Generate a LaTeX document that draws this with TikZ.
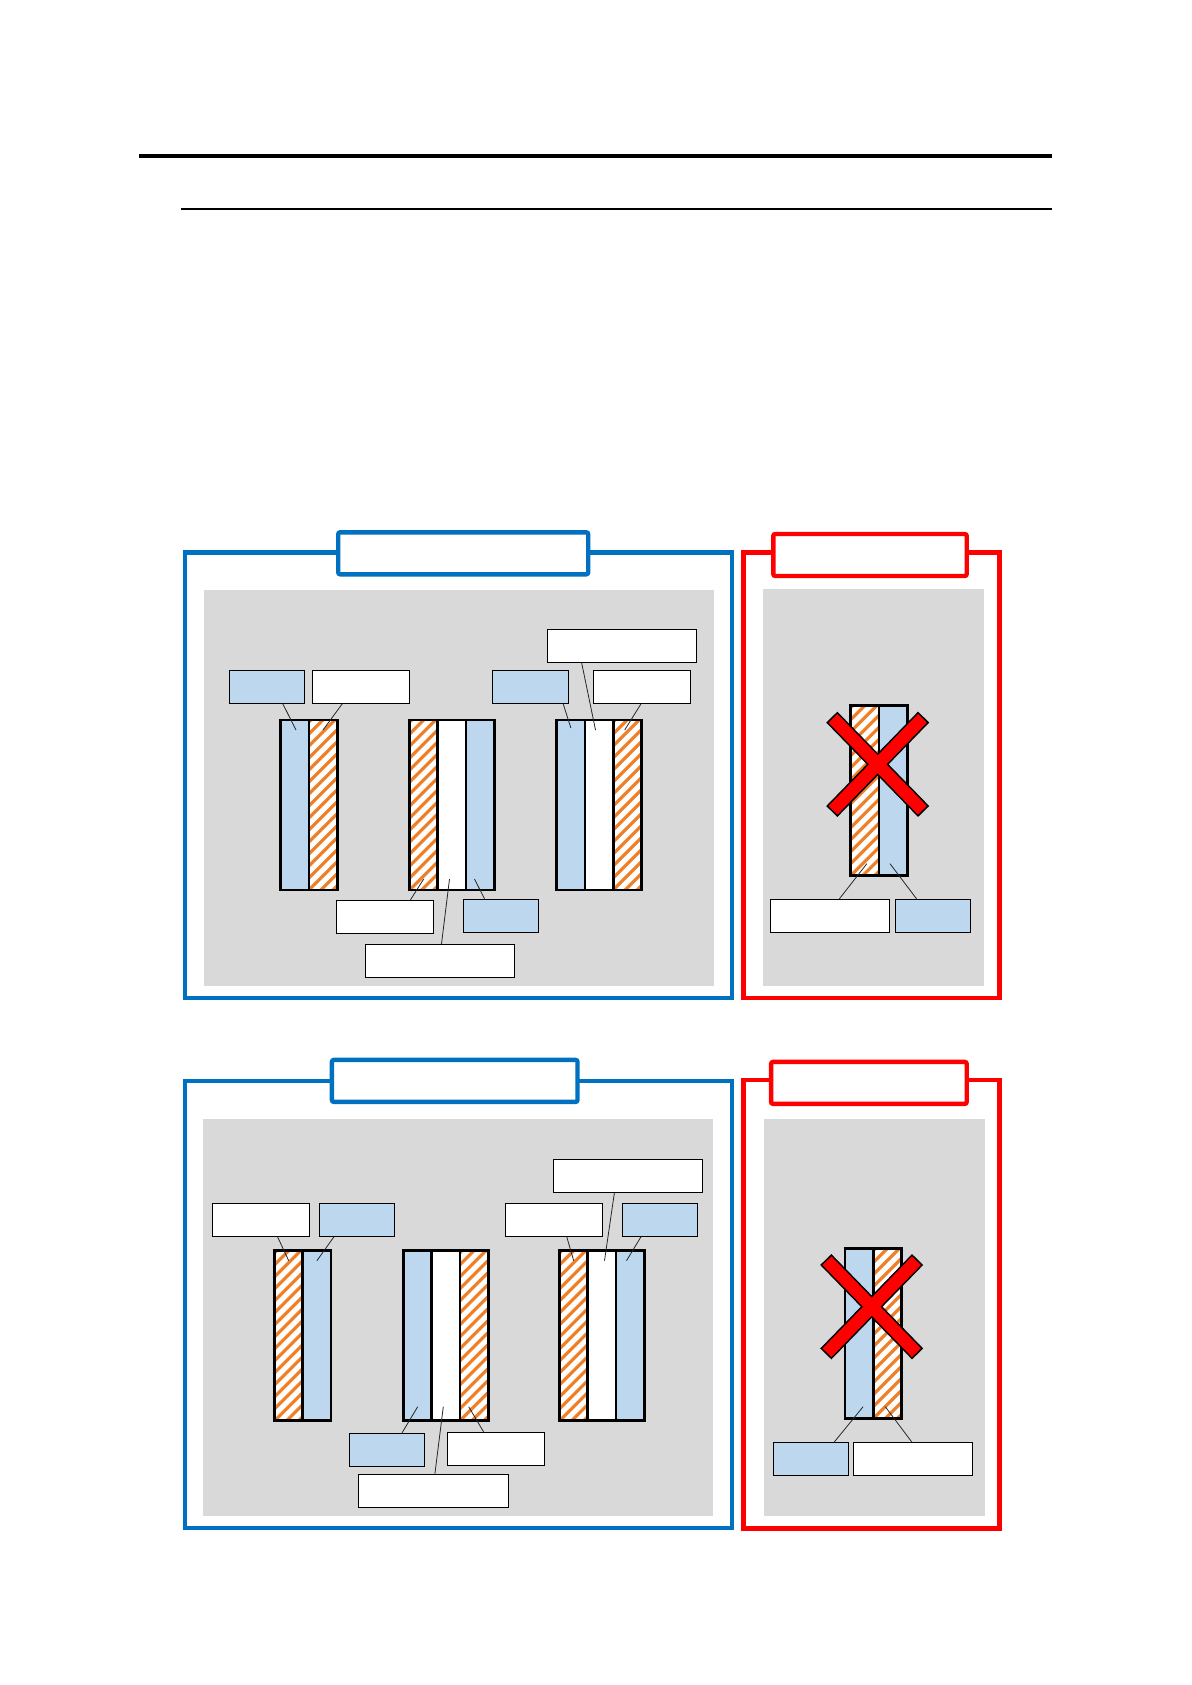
\documentclass[tikz,border=0pt]{standalone}
\usetikzlibrary{positioning,calc}
\definecolor{FrameBlue}{RGB}{0,112,192}
\definecolor{TagBlue}{RGB}{189,215,238}
\definecolor{PanelGrey}{RGB}{217,217,217}
\definecolor{HatchOrange}{RGB}{240,128,40}
\definecolor{StopRed}{RGB}{255,0,0}
\tikzset{
  tag/.style={draw=black,line width=0.5pt,inner sep=0pt,minimum height=16.5pt},
  btag/.style={tag,fill=TagBlue,minimum width=37.6pt},
  wtag/.style={tag,fill=white,minimum width=48.5pt},
  ltag/.style={tag,fill=white,minimum width=74.6pt},
  rtag/.style={tag,fill=white,minimum width=59.5pt},
  col/.style={draw=black,line width=1.4pt,inner sep=0pt,outer sep=0pt,
              minimum width=14.1pt,minimum height=85pt},
  bcol/.style={col,fill=TagBlue},
  wcol/.style={col,fill=white},
  hcol/.style={col,fill=white,path picture={
      \foreach \k in {-16,...,3}
        \draw[HatchOrange,line width=1.6pt]
          ([xshift=\k*6pt]path picture bounding box.south west) -- ++(100pt,100pt);
    }},
  okframe/.style={draw=FrameBlue,line width=2.2pt},
  noframe/.style={draw=StopRed,line width=2.2pt},
  oktitle/.style={draw=FrameBlue,fill=white,line width=2.2pt,rounded corners=1pt,
                  inner sep=0pt,minimum height=21pt},
  notitle/.style={draw=StopRed,fill=white,line width=2.2pt,rounded corners=1pt,
                  inner sep=0pt,minimum height=21pt},
  lead/.style={draw=black!85,line width=0.4pt},
  nogo/.pic={
    \draw[black,line width=7.8pt] (-45.9,-47.2)--(45.9,47.2) (-45.9,47.2)--(45.9,-47.2);
    \draw[StopRed,line width=6.2pt] (-44.7,-46)--(44.7,46) (-44.7,46)--(44.7,-46);
  }
}

\begin{document}
\begin{tikzpicture}[x=0.5pt,y=-0.5pt]
        \useasboundingbox (0,0) rectangle (1192,1685);
        % header rules
        \draw[line width=1.65pt] (139,156) -- (1052,156);
        \draw[line width=1pt] (181,208.7) -- (1052,208.7);

        % panels
        \fill[PanelGrey] (203.9,590) rectangle (713.9,985.7);
        \fill[PanelGrey] (762.7,589) rectangle (984,985.7);
        \fill[PanelGrey] (202.9,1119) rectangle (712.9,1515.7);
        \fill[PanelGrey] (764,1119) rectangle (985,1515.7);
        \draw[okframe] (185,552.3) rectangle (731.8,997.7);
        \draw[noframe] (743.3,552.3) rectangle (999.3,997.7);
        \draw[okframe] (185,1080.7) rectangle (732,1527.7);
        \draw[noframe] (743.3,1080) rectangle (999.3,1528.3);
        \node[oktitle,minimum width=125pt] (t1) at (463.2,553.3) {};
        \node[notitle,minimum width=96.7pt] (t2) at (870,555) {};
        \node[oktitle,minimum width=122.8pt] (t3) at (454.7,1080.9) {};
        \node[notitle,minimum width=97.8pt] (t4) at (868.9,1082.9) {};

        % upper row
        \node[bcol,anchor=north west] (a1) at (280.7,720) {};
        \node[hcol,right=0pt of a1] (a2) {};
        \node[hcol,anchor=north west] (b1) at (409.6,720) {};
        \node[wcol,right=0pt of b1] (b2) {};
        \node[bcol,right=0pt of b2] (b3) {};
        \node[bcol,anchor=north west] (c1) at (556.8,720) {};
        \node[wcol,right=0pt of c1] (c2) {};
        \node[hcol,right=0pt of c2] (c3) {};
        \node[hcol,anchor=north west] (r1) at (850.7,705.7) {};
        \node[bcol,right=0pt of r1] (r2) {};

        \node[btag] (ua) at (266.8,686.8) {};
        \node[wtag] (ub) at (360.9,686.8) {};
        \node[btag] (uc) at (530.4,686.8) {};
        \node[wtag] (ud) at (642,686.8) {};
        \node[ltag] (ue) at (622.2,645.8) {};
        \node[wtag] (uf) at (385,916.8) {};
        \node[btag] (ug) at (501.3,915.8) {};
        \node[ltag] (uh) at (440,960.8) {};
        \node[rtag] (ra) at (829.8,915.8) {};
        \node[btag] (rb) at (933.3,915.8) {};

        \draw[lead] ($(ua.south west)!.71!(ua.south east)$) -- ([xshift=.6pt,yshift=-5pt]a1.north);
        \draw[lead] ($(ub.south west)!.31!(ub.south east)$) -- ([yshift=-5pt]a2.north);
        \draw[lead] ($(uc.south west)!.93!(uc.south east)$) -- ([yshift=-4pt]c1.north);
        \draw[lead] ($(ue.south west)!.23!(ue.south east)$) -- ([xshift=-1.8pt,yshift=-5pt]c2.north);
        \draw[lead] ($(ud.south west)!.49!(ud.south east)$) -- ([xshift=-1.3pt,yshift=-5pt]c3.north);
        \draw[lead] ($(uf.north west)!.76!(uf.north east)$) -- ([yshift=5.5pt]b1.south);
        \draw[lead] ($(uh.north west)!.51!(uh.north east)$) -- ([xshift=-1.2pt,yshift=5.5pt]b2.south);
        \draw[lead] ($(ug.north west)!.28!(ug.north east)$) -- ([xshift=-2.8pt,yshift=5.5pt]b3.south);
        \draw[lead] ($(ra.north west)!.58!(ra.north east)$) -- ([xshift=1pt,yshift=6pt]r1.south);
        \draw[lead] ($(rb.north west)!.28!(rb.north east)$) -- ([xshift=-1.5pt,yshift=6pt]r2.south);
        \pic at (877.7,764.3) {nogo};

        % lower row
        \node[hcol,anchor=north west] (d1) at (274.6,1250.7) {};
        \node[bcol,right=0pt of d1] (d2) {};
        \node[bcol,anchor=north west] (e1) at (403.6,1250.7) {};
        \node[wcol,right=0pt of e1] (e2) {};
        \node[hcol,right=0pt of e2] (e3) {};
        \node[hcol,anchor=north west] (f1) at (559.6,1250.7) {};
        \node[wcol,right=0pt of f1] (f2) {};
        \node[bcol,right=0pt of f2] (f3) {};
        \node[bcol,anchor=north west] (s1) at (845,1248.7) {};
        \node[hcol,right=0pt of s1] (s2) {};

        \node[wtag] (va) at (260.9,1219.8) {};
        \node[btag] (vb) at (356.8,1219.8) {};
        \node[wtag] (vc) at (554,1219.8) {};
        \node[btag] (vd) at (660,1219.8) {};
        \node[ltag] (ve) at (627.9,1175.8) {};
        \node[btag] (vf) at (386.8,1449.8) {};
        \node[wtag] (vg) at (496.3,1448.8) {};
        \node[ltag] (vh) at (433.4,1490.8) {};
        \node[btag] (sa) at (810.8,1458.8) {};
        \node[rtag] (sb) at (912.8,1458.8) {};

        \draw[lead] ($(va.south west)!.67!(va.south east)$) -- ([yshift=-5pt]d1.north);
        \draw[lead] ($(vb.south west)!.2!(vb.south east)$) -- ([yshift=-5pt]d2.north);
        \draw[lead] ($(vc.south west)!.63!(vc.south east)$) -- ([yshift=-5pt]f1.north);
        \draw[lead] ($(ve.south west)!.41!(ve.south east)$) -- ([xshift=1.3pt,yshift=-5pt]f2.north);
        \draw[lead] ($(vd.south west)!.25!(vd.south east)$) -- ([xshift=-1.8pt,yshift=-5pt]f3.north);
        \draw[lead] ($(vf.north west)!.7!(vf.north east)$) -- ([yshift=7pt]e1.south);
        \draw[lead] ($(vh.north west)!.51!(vh.north east)$) -- ([xshift=-1.3pt,yshift=7pt]e2.south);
        \draw[lead] ($(vg.north west)!.37!(vg.north east)$) -- ([xshift=-2.7pt,yshift=7pt]e3.south);
        \draw[lead] ($(sa.north west)!.81!(sa.north east)$) -- ([xshift=2pt,yshift=6pt]s1.south);
        \draw[lead] ($(sb.north west)!.49!(sb.north east)$) -- ([xshift=-1pt,yshift=6pt]s2.south);
        \pic at (871.7,1306.7) {nogo};
      \end{tikzpicture}
\end{document}
